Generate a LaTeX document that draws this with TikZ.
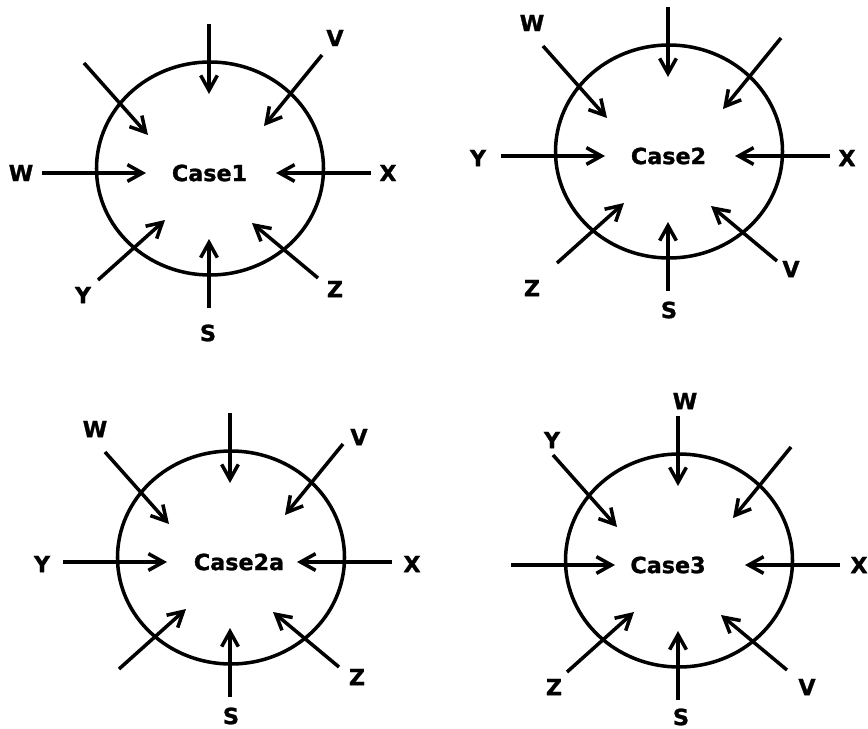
\documentclass[tikz,border=0pt]{standalone}
\usepackage{fontspec}
\setmainfont{DejaVu Sans}[BoldFeatures={FakeBold=1.2}]
\usetikzlibrary{arrows.meta,calc}

% one case: ellipse with eight inward arrows
\newcommand{\drawcase}[2]{%
  \coordinate (#1) at #2;
  \draw[rim] ($(#1)+(1,-4.5)$) ellipse [x radius=3.405cm, y radius=3.195cm];
  \foreach \dir/\ox/\oy/\ix/\iy in {n/0/-149/0/-79, nw/-125/-110/-61/-38,
      ne/113/-118/55/-47, w/-167/0/-63/0, e/162/0/67/0,
      sw/-111/107/-44/47, s/0/135/0/66, se/109/105/43/50}{
    \coordinate (#1-\dir-out) at ($(#1)+(\ox,\oy)$);
    \coordinate (#1-\dir-in) at ($(#1)+(\ix,\iy)$);
    \draw[flow] (#1-\dir-out) -- (#1-\dir-in);
  }%
}

\begin{document}
\begin{tikzpicture}[x=0.03cm,y=-0.03cm,
    rim/.style={line width=3pt},
    flow/.style={line width=3pt,-{Straight Barb[length=0.45cm,width=0.5cm]}},
    lbl/.style={font=\fontsize{19}{21}\selectfont\bfseries,inner sep=0pt}]
\useasboundingbox (0,0) rectangle (868,729);

\drawcase{caseA}{(209,173)}
\drawcase{caseB}{(668,156)}
\drawcase{caseC}{(230,562)}
\drawcase{caseD}{(678,565)}

\node[lbl] (caseA-txt) at (209.5,173) {Case1};
\node[lbl] (caseB-txt) at (668.5,156) {Case2};
\node[lbl] (caseC-txt) at (239,562) {Case2a};
\node[lbl] (caseD-txt) at (668,565) {Case3};

% Case1
\node[lbl] (caseA-V) at (335,38) {V};
\node[lbl] (caseA-W) at (21,173) {W};
\node[lbl] (caseA-X) at (388,173) {X};
\node[lbl] (caseA-Y) at (83,295) {Y};
\node[lbl] (caseA-S) at (208,333) {S};
\node[lbl] (caseA-Z) at (335,289) {Z};

% Case2
\node[lbl] (caseB-W) at (532,23) {W};
\node[lbl] (caseB-Y) at (478,158) {Y};
\node[lbl] (caseB-X) at (847,158) {X};
\node[lbl] (caseB-Z) at (532,288) {Z};
\node[lbl] (caseB-S) at (669,310) {S};
\node[lbl] (caseB-V) at (791,269) {V};

% Case2a
\node[lbl] (caseC-W) at (95,429) {W};
\node[lbl] (caseC-V) at (359,437) {V};
\node[lbl] (caseC-Y) at (42,564) {Y};
\node[lbl] (caseC-X) at (412,564) {X};
\node[lbl] (caseC-S) at (231,716) {S};
\node[lbl] (caseC-Z) at (357,677) {Z};

% Case3
\node[lbl] (caseD-W) at (685,401) {W};
\node[lbl] (caseD-Y) at (552,440) {Y};
\node[lbl] (caseD-X) at (859,565) {X};
\node[lbl] (caseD-Z) at (554,687) {Z};
\node[lbl] (caseD-S) at (681,717) {S};
\node[lbl] (caseD-V) at (807,687) {V};

\end{tikzpicture}
\end{document}
